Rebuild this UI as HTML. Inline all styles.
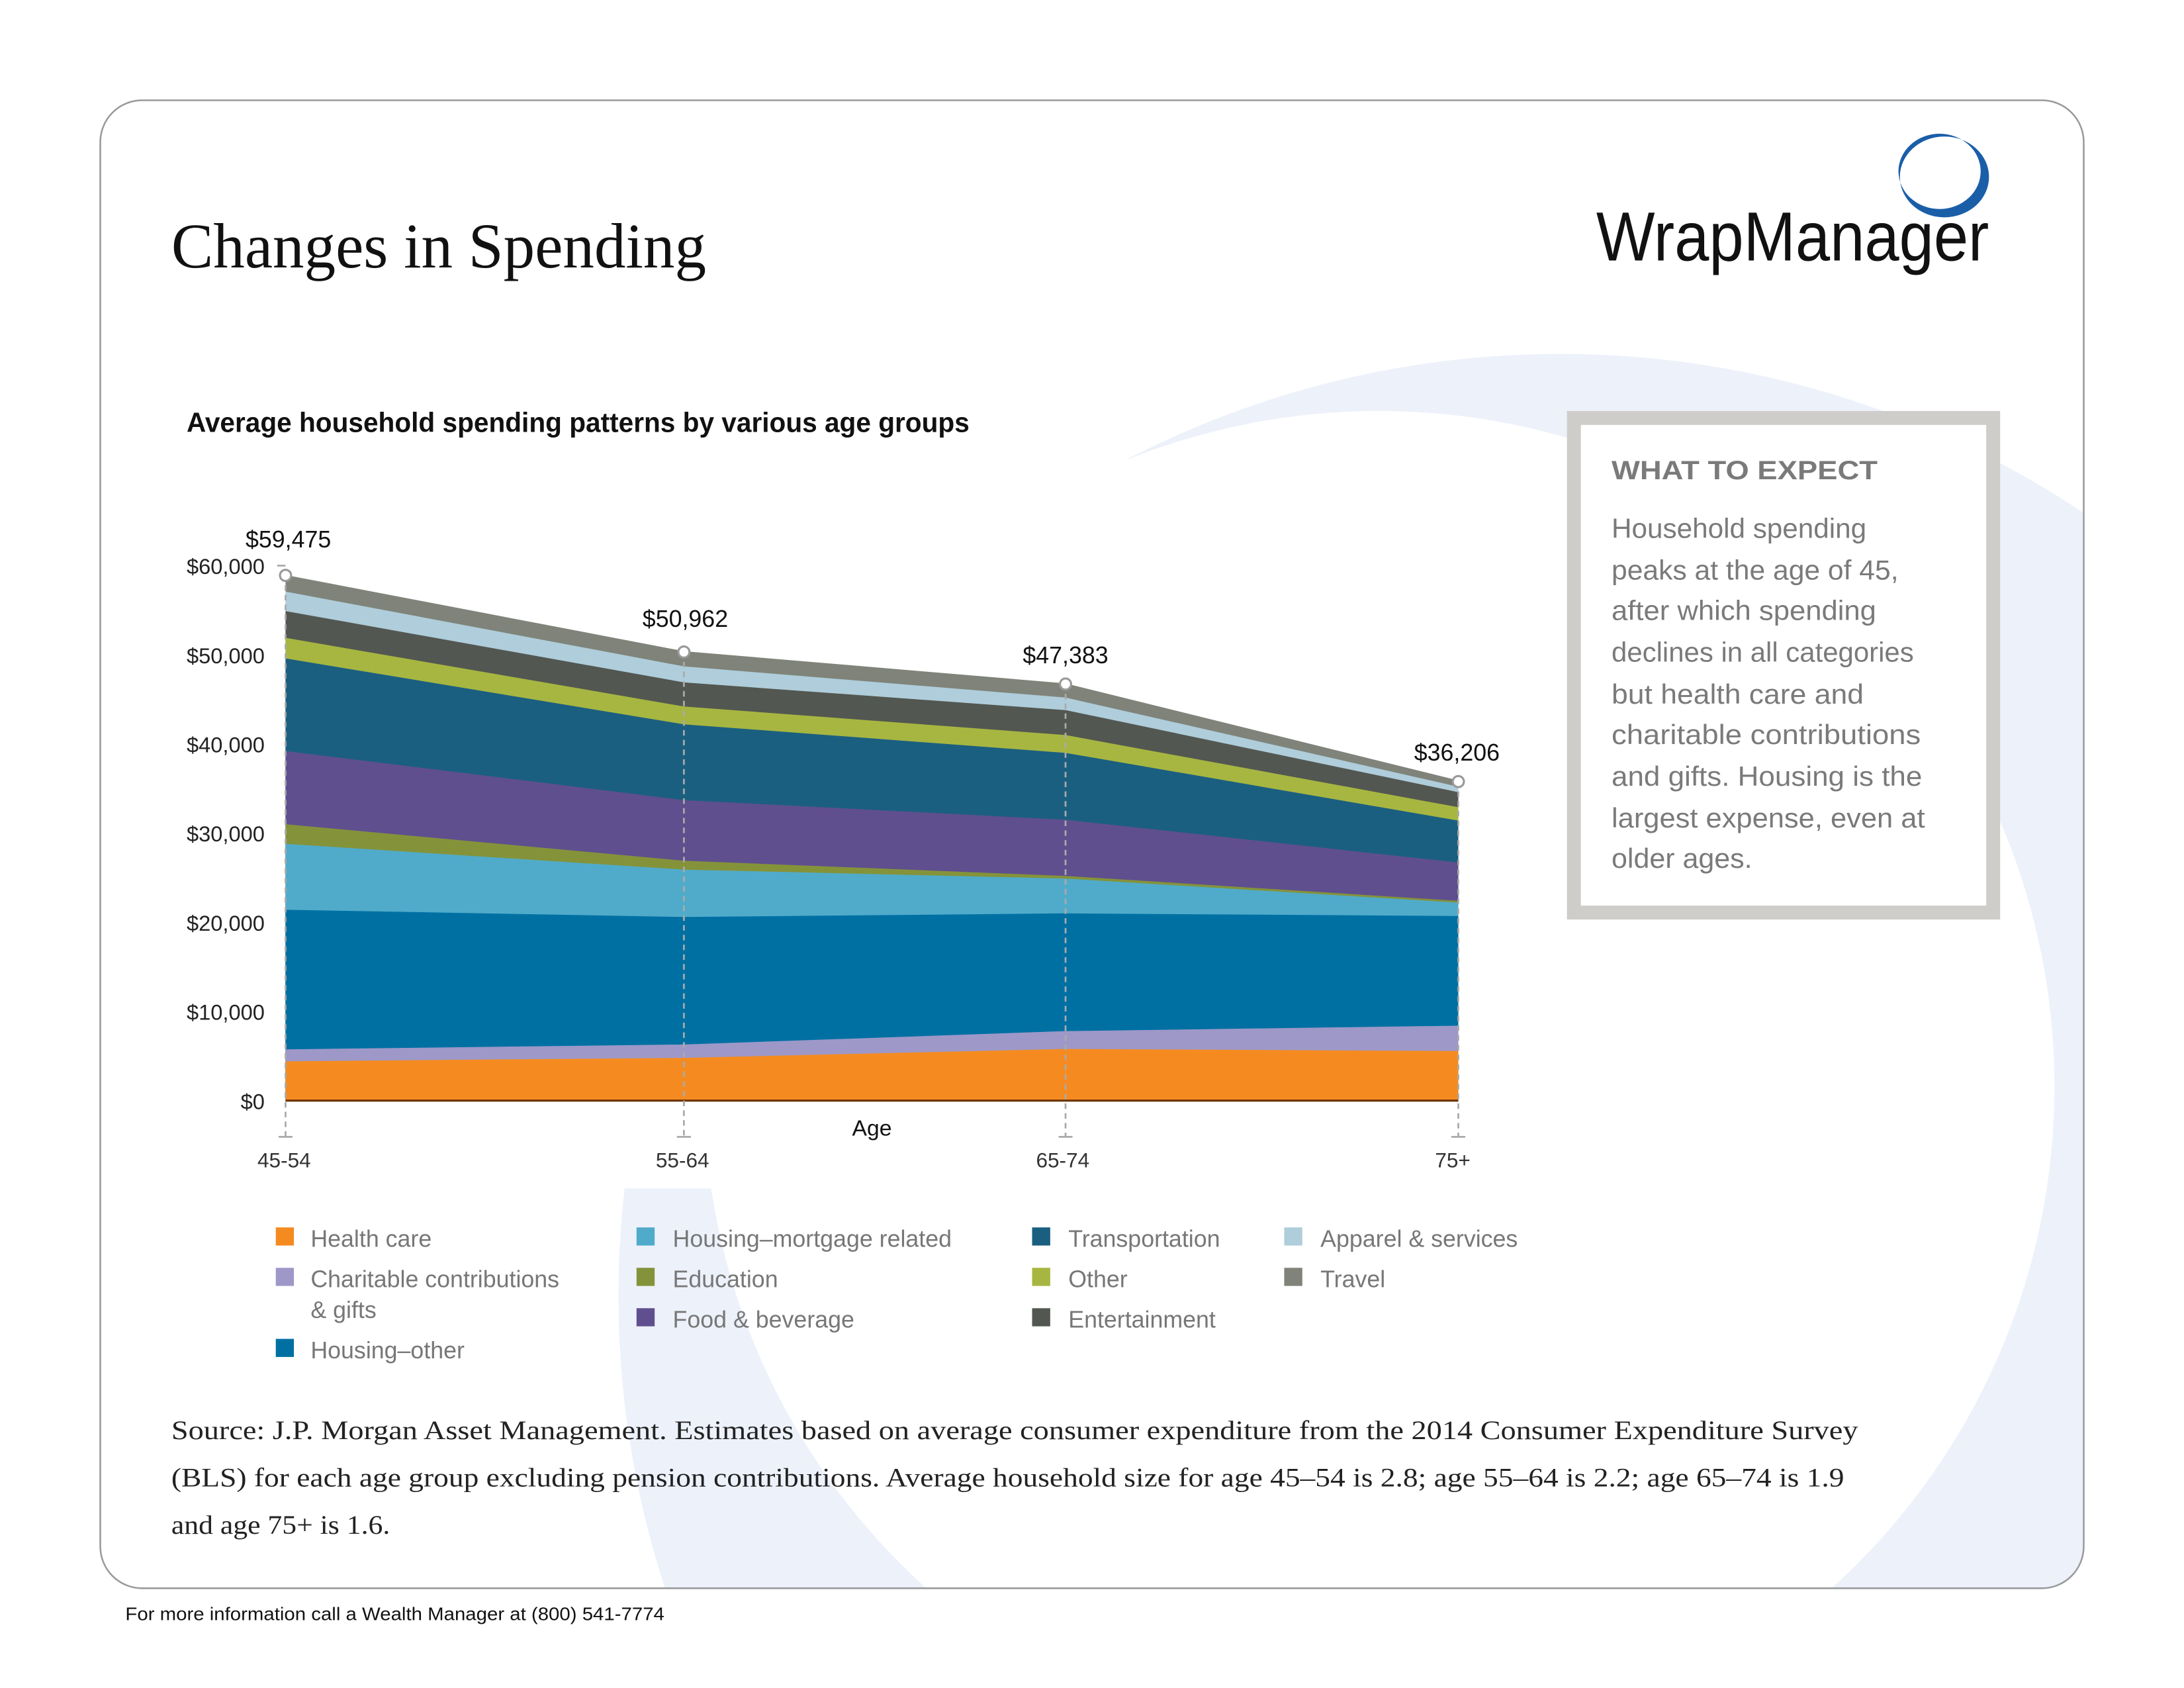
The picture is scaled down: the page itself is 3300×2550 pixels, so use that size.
<!DOCTYPE html>
<html><head><meta charset="utf-8"><style>
html,body{margin:0;padding:0;background:#fff;width:3300px;height:2550px;overflow:hidden;position:relative;}
svg{display:block;position:absolute;left:0;top:0;}
</style></head><body>
<svg width="3300" height="2550" viewBox="0 0 1568 1211.6" preserveAspectRatio="none" xmlns="http://www.w3.org/2000/svg">
<defs>
<clipPath id="bx"><rect x="72" y="72" width="1424" height="1068" rx="30"/></clipPath>
</defs>
<rect width="1568" height="1212" fill="#fff"/>
<g clip-path="url(#bx)">
<path fill-rule="evenodd" fill="#EDF1FA" d="M444,930 a676,676 0 1,0 1352,0 a676,676 0 1,0 -1352,0 Z M505,780 a485,485 0 1,0 970,0 a485,485 0 1,0 -970,0 Z"/>
<rect x="72" y="330" width="1048" height="523" fill="#fff"/>
</g>
<rect x="72" y="72" width="1424" height="1068" rx="30" fill="none" stroke="#9a9a9a" stroke-width="1.2"/>

<text x="123" y="192" font-family="Liberation Serif, serif" font-size="46" fill="#111" textLength="384" lengthAdjust="spacingAndGlyphs">Changes in Spending</text>
<text x="1146" y="187" font-family="Liberation Sans, sans-serif" font-size="50" fill="#111" textLength="282" lengthAdjust="spacingAndGlyphs">WrapManager</text>
<path fill-rule="evenodd" fill="#1a5ea8" d="M1364,127 a32,29 0 1,0 64,0 a32,29 0 1,0 -64,0 Z M1363,123 a29.5,27 0 1,0 59,0 a29.5,27 0 1,0 -59,0 Z"/>

<text x="134" y="310" font-family="Liberation Sans, sans-serif" font-weight="bold" font-size="20" fill="#111" textLength="562" lengthAdjust="spacingAndGlyphs">Average household spending patterns by various age groups</text>

<g stroke="none">
<polygon fill="#7F8379" points="205,412.7 491,467.4 765,490.5 1047,560.2 1047,790 205,790"/>
<polygon fill="#AFCDDA" points="205,424.6 491,478.3 765,500.7 1047,564.7 1047,790 205,790"/>
<polygon fill="#535751" points="205,438.6 491,489.8 765,509.7 1047,568.6 1047,790 205,790"/>
<polygon fill="#A7B641" points="205,457.8 491,507.1 765,527.6 1047,579.4 1047,790 205,790"/>
<polygon fill="#1B5F80" points="205,472.6 491,519.9 765,540.4 1047,589.0 1047,790 205,790"/>
<polygon fill="#5F4F8E" points="205,539.1 491,574.3 765,588.4 1047,619.1 1047,790 205,790"/>
<polygon fill="#84933A" points="205,591.6 491,617.8 765,628.7 1047,646.6 1047,790 205,790"/>
<polygon fill="#50ABCA" points="205,605.7 491,624.2 765,630.6 1047,647.9 1047,790 205,790"/>
<polygon fill="#0070A3" points="205,653.0 491,658.2 765,655.6 1047,657.5 1047,790 205,790"/>
<polygon fill="#9D98C8" points="205,753.2 491,749.7 765,740.1 1047,736.2 1047,790 205,790"/>
<polygon fill="#F58B20" points="205,761.8 491,759.3 765,752.9 1047,754.4 1047,790 205,790"/>
</g>
<line x1="205" y1="790" x2="1047" y2="790" stroke="#6b3300" stroke-width="1.5"/>

<g stroke="#aaa" stroke-width="1.3" stroke-dasharray="4,3">
<line x1="205" y1="413" x2="205" y2="816"/>
<line x1="491" y1="468" x2="491" y2="816"/>
<line x1="765" y1="491" x2="765" y2="816"/>
<line x1="1047" y1="561" x2="1047" y2="816"/>
</g>
<g stroke="#aaa" stroke-width="1.3">
<line x1="200" y1="816" x2="210" y2="816"/><line x1="486" y1="816" x2="496" y2="816"/>
<line x1="760" y1="816" x2="770" y2="816"/><line x1="1042" y1="816" x2="1052" y2="816"/>
<line x1="199" y1="406" x2="205" y2="406"/>
</g>
<g fill="#fff" stroke="#999" stroke-width="1.5">
<circle cx="205" cy="413" r="4"/><circle cx="491" cy="468" r="4"/><circle cx="765" cy="491" r="4"/><circle cx="1047" cy="561" r="4"/>
</g>

<g font-family="Liberation Sans, sans-serif" font-size="15.5" fill="#222" text-anchor="end">
<text x="190" y="412">$60,000</text><text x="190" y="476">$50,000</text><text x="190" y="540">$40,000</text>
<text x="190" y="604">$30,000</text><text x="190" y="668">$20,000</text><text x="190" y="732">$10,000</text>
<text x="190" y="796">$0</text>
</g>
<g font-family="Liberation Sans, sans-serif" font-size="17" fill="#111" text-anchor="middle">
<text x="207" y="393">$59,475</text><text x="492" y="450">$50,962</text><text x="765" y="476">$47,383</text><text x="1046" y="546">$36,206</text>
<text x="626" y="815" font-size="16">Age</text>
</g>
<g font-family="Liberation Sans, sans-serif" font-size="15" fill="#333" text-anchor="middle">
<text x="204" y="838">45-54</text><text x="490" y="838">55-64</text><text x="763" y="838">65-74</text><text x="1043" y="838">75+</text>
</g>

<g>
<rect x="198" y="881" width="13" height="13" fill="#F58B20"/>
<rect x="198" y="910" width="13" height="13" fill="#9D98C8"/>
<rect x="198" y="961" width="13" height="13" fill="#0070A3"/>
<rect x="457" y="881" width="13" height="13" fill="#50ABCA"/>
<rect x="457" y="910" width="13" height="13" fill="#84933A"/>
<rect x="457" y="939" width="13" height="13" fill="#5F4F8E"/>
<rect x="741" y="881" width="13" height="13" fill="#1B5F80"/>
<rect x="741" y="910" width="13" height="13" fill="#A7B641"/>
<rect x="741" y="939" width="13" height="13" fill="#535751"/>
<rect x="922" y="881" width="13" height="13" fill="#AFCDDA"/>
<rect x="922" y="910" width="13" height="13" fill="#7F8379"/>
</g>
<g font-family="Liberation Sans, sans-serif" font-size="17" fill="#777">
<text x="223" y="895">Health care</text>
<text x="223" y="924">Charitable contributions</text>
<text x="223" y="946">&amp; gifts</text>
<text x="223" y="975">Housing–other</text>
<text x="483" y="895">Housing–mortgage related</text>
<text x="483" y="924">Education</text>
<text x="483" y="953">Food &amp; beverage</text>
<text x="767" y="895">Transportation</text>
<text x="767" y="924">Other</text>
<text x="767" y="953">Entertainment</text>
<text x="948" y="895">Apparel &amp; services</text>
<text x="948" y="924">Travel</text>
</g>

<rect x="1130" y="300" width="301" height="355" fill="#fff" stroke="#CFCDCA" stroke-width="10"/>
<text x="1157" y="344" font-family="Liberation Sans, sans-serif" font-weight="bold" font-size="19" fill="#7a7a7a" textLength="191" lengthAdjust="spacingAndGlyphs">WHAT TO EXPECT</text>
<g font-family="Liberation Sans, sans-serif" font-size="20" fill="#7a7a7a">
<text x="1157" y="386" textLength="183" lengthAdjust="spacingAndGlyphs">Household spending</text>
<text x="1157" y="416" textLength="206" lengthAdjust="spacingAndGlyphs">peaks at the age of 45,</text>
<text x="1157" y="445" textLength="190" lengthAdjust="spacingAndGlyphs">after which spending</text>
<text x="1157" y="475" textLength="217" lengthAdjust="spacingAndGlyphs">declines in all categories</text>
<text x="1157" y="505" textLength="181" lengthAdjust="spacingAndGlyphs">but health care and</text>
<text x="1157" y="534" textLength="222" lengthAdjust="spacingAndGlyphs">charitable contributions</text>
<text x="1157" y="564" textLength="223" lengthAdjust="spacingAndGlyphs">and gifts. Housing is the</text>
<text x="1157" y="594" textLength="225" lengthAdjust="spacingAndGlyphs">largest expense, even at</text>
<text x="1157" y="623" textLength="101" lengthAdjust="spacingAndGlyphs">older ages.</text>
</g>

<g font-family="Liberation Serif, serif" font-size="19" fill="#222">
<text x="123" y="1033" textLength="1211" lengthAdjust="spacingAndGlyphs">Source: J.P. Morgan Asset Management. Estimates based on average consumer expenditure from the 2014 Consumer Expenditure Survey</text>
<text x="123" y="1067" textLength="1201" lengthAdjust="spacingAndGlyphs">(BLS) for each age group excluding pension contributions. Average household size for age 45–54 is 2.8; age 55–64 is 2.2; age 65–74 is 1.9</text>
<text x="123" y="1101" textLength="157" lengthAdjust="spacingAndGlyphs">and age 75+ is 1.6.</text>
</g>
<text x="90" y="1163" font-family="Liberation Sans, sans-serif" font-size="13" fill="#111" textLength="387" lengthAdjust="spacingAndGlyphs">For more information call a Wealth Manager at (800) 541-7774</text>
</svg>
</body></html>
